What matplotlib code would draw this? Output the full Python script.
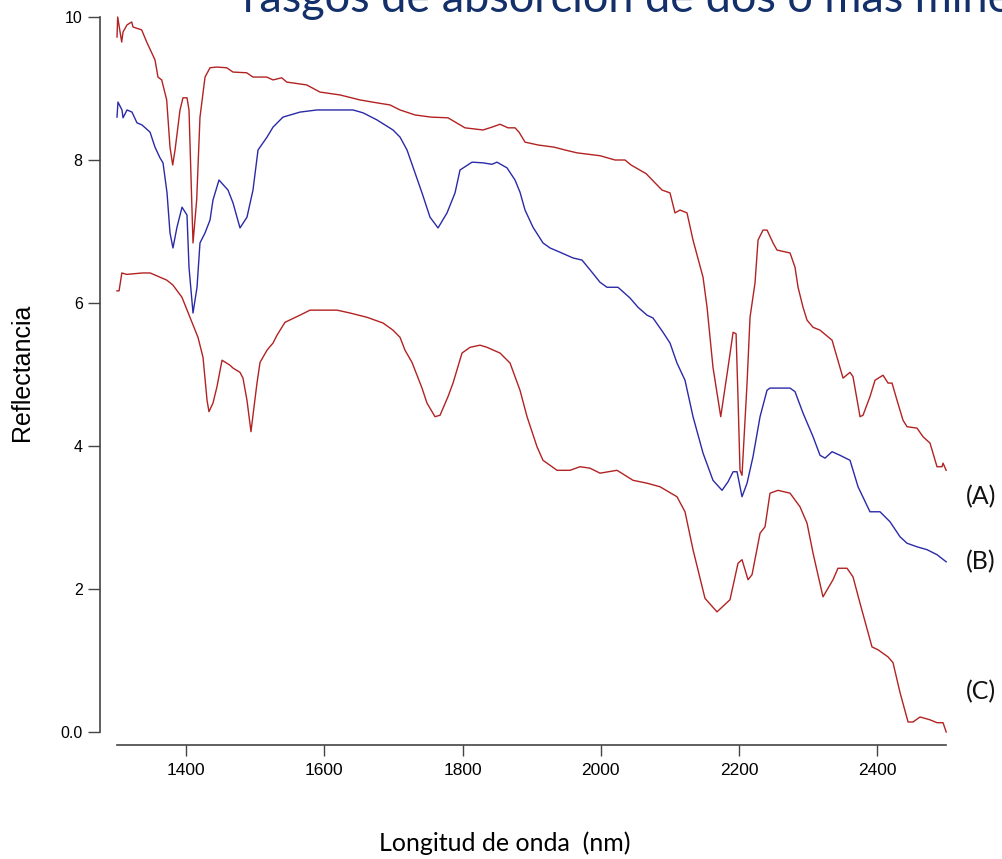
import matplotlib
matplotlib.use("Agg")
from matplotlib import pyplot as plt

# spectrum (A) - upper red curve
a_nm = [1300, 1301, 1306.8, 1308.7, 1314.5, 1321.3, 1323.2, 1335.7, 1343, 1355, 1359.3, 1364.7,
        1371.9, 1376.7, 1380.6, 1384, 1391.2, 1395.5, 1401.3, 1404.2, 1408.1, 1410, 1415.3, 1420.1,
        1427.4, 1434.6, 1444.3, 1458.8, 1467.9, 1487.7, 1496.8, 1516.6, 1525.8, 1538.4, 1545.6,
        1574.5, 1593.8, 1622.7, 1651.7, 1675.8, 1695.1, 1709.6, 1731.3, 1754.4, 1779, 1803.6,
        1829.7, 1842.7, 1854.3, 1865.9, 1876, 1881.8, 1890.5, 1909.3, 1932.4, 1948.4, 1965.7,
        1999, 2020.7, 2035.2, 2043.9, 2065.6, 2088.7, 2100.3, 2107.5, 2114.8, 2124.9, 2133.6,
        2148.1, 2153.9, 2162.5, 2173.7, 2184.3, 2191.6, 2195.9, 2198.8, 2201.6, 2204.5, 2211.8,
        2216.1, 2223.3, 2227.7, 2234.9, 2240.7, 2249.4, 2255.2, 2274, 2281.2, 2285.6, 2292.8,
        2298.6, 2307.3, 2317.4, 2334.8, 2342, 2350.7, 2360.8, 2365.1, 2375.3, 2379.6, 2389.7,
        2397, 2408.6, 2415.8, 2421.6, 2428.8, 2437.5, 2443.3, 2457.8, 2466.4, 2476.6, 2486.7,
        2493.9, 2495.4, 2500]
a_val = [9.72, 10.0, 9.65, 9.79, 9.89, 9.93, 9.86, 9.82, 9.65, 9.40, 9.16, 9.12,
         8.84, 8.18, 7.93, 8.14, 8.70, 8.87, 8.87, 8.70, 7.44, 6.84, 7.44, 8.60,
         9.16, 9.29, 9.30, 9.29, 9.23, 9.22, 9.16, 9.16, 9.12, 9.15, 9.09,
         9.05, 8.95, 8.91, 8.84, 8.80, 8.77, 8.70, 8.63, 8.60, 8.59, 8.45,
         8.42, 8.46, 8.50, 8.45, 8.45, 8.39, 8.25, 8.21, 8.18, 8.14, 8.10,
         8.06, 8.00, 8.00, 7.93, 7.81, 7.58, 7.54, 7.26, 7.30, 7.26, 6.88,
         6.36, 5.94, 5.10, 4.41, 5.10, 5.59, 5.57, 4.64, 3.66, 3.59, 4.88,
         5.80, 6.28, 6.88, 7.02, 7.02, 6.84, 6.74, 6.70, 6.50, 6.22, 5.94,
         5.76, 5.66, 5.62, 5.48, 5.24, 4.95, 5.03, 4.97, 4.41, 4.43, 4.69,
         4.92, 4.99, 4.88, 4.88, 4.64, 4.36, 4.27, 4.25, 4.13, 4.04, 3.71,
         3.71, 3.76, 3.66]

# spectrum (B) - blue curve
b_nm = [1300, 1301.4, 1307.2, 1308.7, 1314.5, 1321.7, 1328.9, 1336.2, 1347.8, 1355, 1362.2,
        1366.6, 1372.4, 1376.7, 1381, 1386.8, 1394.1, 1401.3, 1404.2, 1410, 1415.8, 1420.1,
        1427.4, 1434.6, 1438.9, 1447.6, 1460.6, 1467.9, 1478, 1488.1, 1496.8, 1504.1, 1517.1,
        1525.8, 1540.2, 1564.8, 1589.4, 1641.5, 1656, 1676.3, 1699.4, 1709.6, 1719.7, 1731.3,
        1741.4, 1753, 1764.6, 1777.6, 1789.2, 1796.4, 1813.8, 1829.7, 1842.7, 1849.9, 1864.4,
        1876, 1883.2, 1890.5, 1902, 1916.5, 1926.6, 1941.1, 1959.9, 1973, 1987.4, 1999, 2009.1,
        2025, 2042.4, 2054, 2067, 2075.7, 2090.2, 2100.3, 2110.4, 2122, 2133.6, 2148.1, 2162.5,
        2175.6, 2184.3, 2191.6, 2197.3, 2204.5, 2211.8, 2220.4, 2230.6, 2240.7, 2245, 2274,
        2281.2, 2292.8, 2307.3, 2317.4, 2324.6, 2334.8, 2346.3, 2360.8, 2372.4, 2389.7, 2404.2,
        2418.7, 2433.2, 2443.3, 2457.8, 2472.2, 2486.7, 2500]
b_val = [8.60, 8.81, 8.70, 8.59, 8.70, 8.67, 8.52, 8.49, 8.39, 8.18, 8.03,
         7.96, 7.54, 6.98, 6.77, 7.06, 7.34, 7.23, 6.50, 5.86, 6.22, 6.84,
         6.98, 7.16, 7.44, 7.72, 7.58, 7.40, 7.05, 7.20, 7.58, 8.14, 8.32,
         8.46, 8.60, 8.67, 8.70, 8.70, 8.66, 8.56, 8.42, 8.32, 8.14, 7.82,
         7.54, 7.20, 7.05, 7.26, 7.54, 7.86, 7.97, 7.96, 7.94, 7.97, 7.89,
         7.72, 7.55, 7.30, 7.06, 6.84, 6.77, 6.71, 6.63, 6.60, 6.43, 6.29, 6.22,
         6.22, 6.07, 5.94, 5.83, 5.79, 5.59, 5.44, 5.16, 4.92, 4.41, 3.90, 3.52,
         3.38, 3.50, 3.64, 3.64, 3.29, 3.48, 3.85, 4.41, 4.78, 4.81, 4.81,
         4.76, 4.46, 4.13, 3.87, 3.83, 3.92, 3.87, 3.80, 3.43, 3.08, 3.08,
         2.94, 2.73, 2.64, 2.59, 2.55, 2.48, 2.38]

# spectrum (C) - lower red curve
c_nm = [1300, 1303, 1307, 1314, 1337, 1348, 1372, 1381, 1394, 1405.6, 1417.2, 1424.5, 1430.3,
        1433.1, 1438.9, 1444.7, 1452, 1463.5, 1467.9, 1478, 1482.3, 1488.1, 1493.9, 1496.8,
        1502.6, 1507, 1517.1, 1525.8, 1531.6, 1543.1, 1564.8, 1579.3, 1618.4, 1637.2, 1661.8,
        1685, 1699.4, 1709.6, 1716.8, 1726.9, 1741.4, 1748.6, 1760.2, 1767.5, 1779, 1786.3,
        1799.3, 1810.9, 1825.3, 1835.5, 1854.3, 1868.8, 1883.2, 1893.4, 1907.8, 1916.5, 1936.8,
        1955.6, 1970.1, 1984.5, 1999, 2023.6, 2046.8, 2067, 2085.8, 2110.4, 2122, 2133.6, 2150.9,
        2168.3, 2187.1, 2198.7, 2204.5, 2213.2, 2219, 2230.6, 2237.8, 2245, 2256.6, 2274, 2288.4,
        2298.6, 2307.3, 2321.7, 2336.2, 2343.4, 2356.5, 2365.1, 2375.3, 2392.6, 2401.3, 2415.8,
        2423, 2433.2, 2444.8, 2452, 2462.1, 2476.6, 2486.7, 2495.4, 2500]
c_val = [6.17, 6.17, 6.42, 6.40, 6.42, 6.42, 6.32, 6.25, 6.08, 5.80, 5.52, 5.24, 4.64,
         4.48, 4.60, 4.83, 5.20, 5.13, 5.09, 5.03, 4.95, 4.64, 4.20, 4.43,
         4.88, 5.17, 5.34, 5.44, 5.55, 5.73, 5.83, 5.90, 5.90, 5.86, 5.80,
         5.72, 5.62, 5.52, 5.34, 5.17, 4.81, 4.60, 4.41, 4.43, 4.69, 4.88,
         5.30, 5.38, 5.41, 5.38, 5.30, 5.16, 4.78, 4.41, 3.99, 3.80, 3.66,
         3.66, 3.71, 3.69, 3.62, 3.66, 3.52, 3.48, 3.43, 3.29, 3.08, 2.55, 1.87,
         1.68, 1.85, 2.36, 2.41, 2.13, 2.20, 2.78, 2.87, 3.34, 3.38, 3.34, 3.15,
         2.92, 2.50, 1.89, 2.13, 2.29, 2.29, 2.17, 1.80, 1.19, 1.15, 1.05,
         0.97, 0.55, 0.14, 0.14, 0.21, 0.17, 0.13, 0.13, 0.0]

x_ticks = [1400, 1600, 1800, 2000, 2200, 2400]
y_ticks = [0, 2, 4, 6, 8, 10]
y_tick_labels = ["0.0", "2", "4", "6", "8", "10"]

red = "#b22222"
blue = "#2a2aa8"

fig = plt.figure(figsize=(10.02, 8.59), dpi=100)
ax = fig.add_axes([0.0998, 0.13271, 0.84631, 0.85565])

ax.plot(a_nm, a_val, color=red, lw=1.0)
ax.plot(b_nm, b_val, color=blue, lw=1.0)
ax.plot(c_nm, c_val, color=red, lw=1.0)

ax.set_xlim(1275.4, 2502.6)
ax.set_ylim(-0.182, 10.098)

for s in ["top", "right"]:
    ax.spines[s].set_visible(False)
ax.spines["left"].set_bounds(0, 10)
ax.spines["bottom"].set_bounds(1300, 2500)
ax.spines["left"].set_color("#444444")
ax.spines["bottom"].set_color("#444444")
ax.spines["left"].set_linewidth(1.2)
ax.spines["bottom"].set_linewidth(1.2)

ax.set_xticks(x_ticks)
ax.set_yticks(y_ticks)
ax.set_yticklabels(y_tick_labels)
ax.tick_params(length=8.5, width=1.0, color="#444444", labelsize=11.5, pad=4,
               labelfontfamily="Liberation Sans")
ax.tick_params(axis="x", length=8, labelsize=12.5, pad=5)

fig.text(22 / 1002, 1 - 372 / 859, "Reflectancia", rotation=90, ha="center", va="center",
         fontsize=18, family="Liberation Sans")
fig.text(505 / 1002, 1 - 843 / 859, "Longitud de onda  (nm)", ha="center", va="center",
         fontsize=18, family="Lato")

fig.text(243 / 1002, 1 - 12 / 859, "rasgos de absorción de dos o más minerales",
         ha="left", va="baseline", fontsize=32.5, family="Lato", color="#13306a")

for lab, py in [("(A)", 497), ("(B)", 562), ("(C)", 692)]:
    fig.text(966 / 1002, 1 - py / 859, lab, ha="left", va="center", fontsize=18,
             family="Lato", color="#111111")

plt.savefig("out.png", dpi=100)
